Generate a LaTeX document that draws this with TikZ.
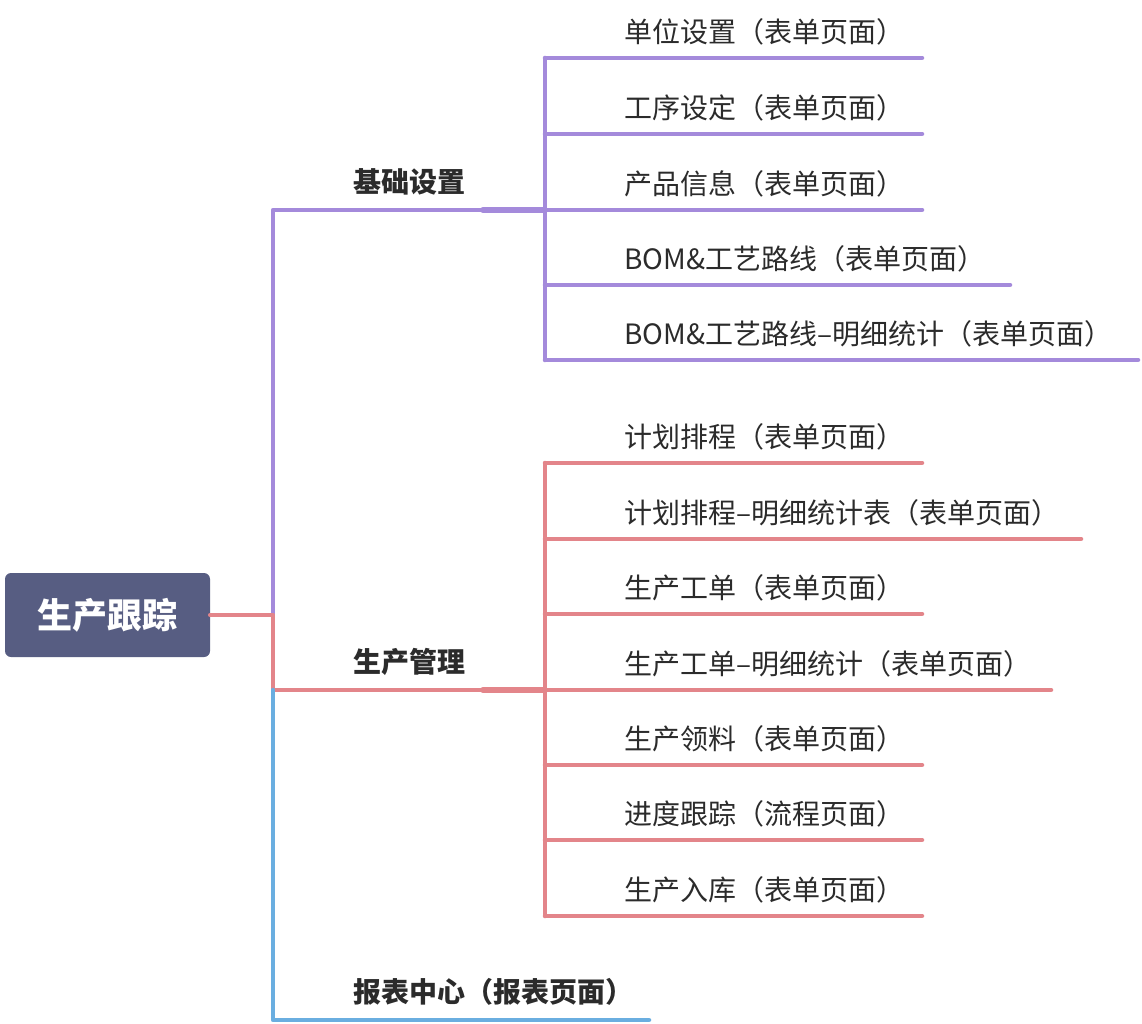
\documentclass[tikz,border=0pt]{standalone}
\usepackage{fontspec}
\setmainfont{Noto Sans CJK SC}
\definecolor{rootfill}{HTML}{575D82}
\definecolor{basecol}{HTML}{A48ADB}
\definecolor{prodcol}{HTML}{E3858A}
\definecolor{reptcol}{HTML}{6AAEE0}
\definecolor{textcol}{HTML}{2B2B2B}
\tikzset{
  rootbox/.style={fill=rootfill, text=white, rounded corners=6pt, minimum width=205pt,
    minimum height=84pt, inner sep=0pt, font=\fontsize{35}{40}\selectfont\bfseries},
  branch/.style={anchor=west, inner sep=0pt, text=textcol, font=\fontsize{28}{32}\selectfont\bfseries},
  leaf/.style={anchor=west, inner sep=0pt, text=textcol, font=\fontsize{28}{32}\selectfont},
  wire/.style={line width=4.5pt, line cap=round, line join=round}
}
\begin{document}
\begin{tikzpicture}[x=1pt,y=-1pt]
\useasboundingbox (0,0) rectangle (1142,1024);

% root and hub
\node[rootbox] (root) at (107.5,615) {生产跟踪};
\coordinate (hub) at (273,615);
\coordinate (hubb) at (273,690);

% 基础设置
\coordinate (jbase) at (545,210);
\draw[wire, basecol] (hub) |- (jbase);
\draw[wire, basecol, line width=6pt] (483,210) -- (jbase);
\node[branch] (base) at (353,182) {基础设置};
\draw[wire, basecol] (545,58) -- (545,360);
\foreach \y/\xe/\txt [count=\i] in {58/922/单位设置（表单页面）, 134/922/工序设定（表单页面）,
    210/922/产品信息（表单页面）, 285/1010/BOM\&工艺路线（表单页面）,
    360/1138/BOM\&工艺路线--明细统计（表单页面）} {
  \coordinate (b\i) at (\xe,\y);
  \draw[wire, basecol] (jbase |- b\i) -- (b\i);
  \node[leaf] (bl\i) at (624,\y-26) {\txt};
}

% 生产管理
\coordinate (jprod) at (545,690);
\draw[wire, prodcol] (root.east) -- (hub) |- (jprod);
\draw[wire, prodcol, line width=6pt] (483,690) -- (jprod);
\node[branch] (prod) at (353,662) {生产管理};
\draw[wire, prodcol] (545,463) -- (545,916);
\foreach \y/\xe/\txt [count=\i] in {463/922/计划排程（表单页面）, 539/1081/计划排程--明细统计表（表单页面）,
    614/922/生产工单（表单页面）, 690/1051/生产工单--明细统计（表单页面）,
    765/922/生产领料（表单页面）, 840/922/进度跟踪（流程页面）, 916/922/生产入库（表单页面）} {
  \coordinate (p\i) at (\xe,\y);
  \draw[wire, prodcol] (jprod |- p\i) -- (p\i);
  \node[leaf] (pl\i) at (624,\y-26) {\txt};
}

% 报表中心
\coordinate (rept) at (649,1020);
\draw[wire, reptcol] (hubb) |- (rept);
\node[branch] (reptl) at (353,992) {报表中心（报表页面）};
\end{tikzpicture}
\end{document}
